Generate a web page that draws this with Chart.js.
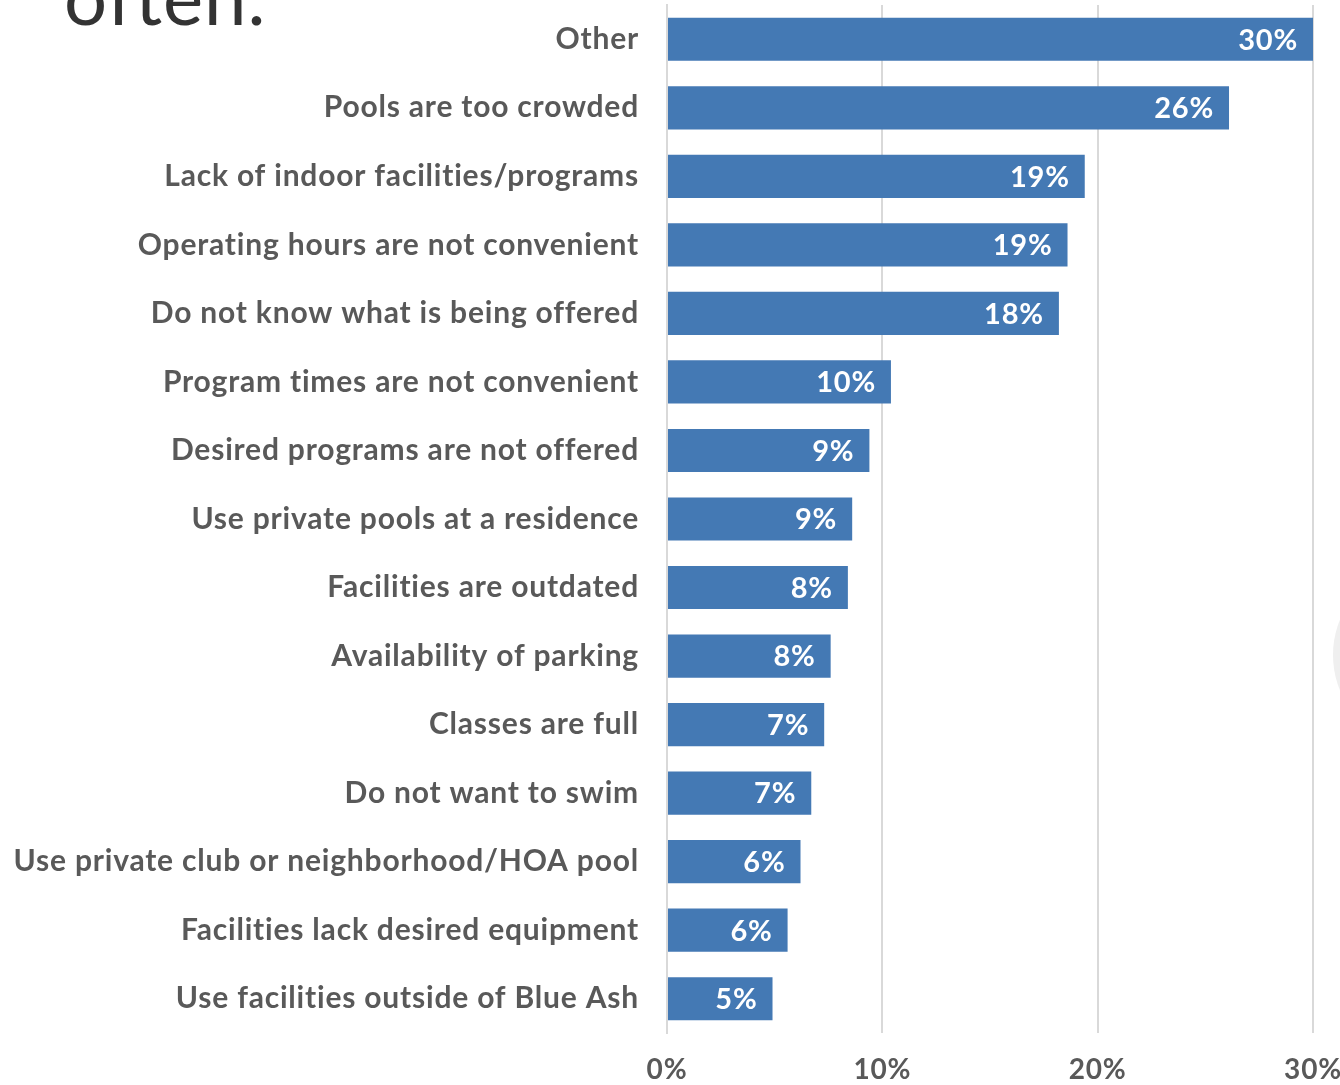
<!DOCTYPE html>
<html>
<head>
<meta charset="utf-8">
<script src="https://cdn.jsdelivr.net/npm/chart.js@4/dist/chart.umd.min.js"></script>
<style>
  html, body { margin: 0; padding: 0; background: #fff; overflow: hidden; }
  #wrap { position: relative; width: 1340px; height: 1085px; }
  #title { position: absolute; left: 64px; top: -50px; font-family: Lato, sans-serif; font-weight: 400; font-size: 76px; letter-spacing: 1px; color: #333; }
  #blob { position: absolute; left: 1333px; top: 580px; width: 120px; height: 150px; border-radius: 50%; background: #efefef; }
  canvas { position: absolute; left: 0; top: 0; }
</style>
</head>
<body>
<div id="wrap">
  <div id="title">often.</div>
  <div id="blob"></div>
  <canvas id="chart" width="1340" height="1085"></canvas>
</div>
<script>
const categories = [
  'Other',
  'Pools are too crowded',
  'Lack of indoor facilities/programs',
  'Operating hours are not convenient',
  'Do not know what is being offered',
  'Program times are not convenient',
  'Desired programs are not offered',
  'Use private pools at a residence',
  'Facilities are outdated',
  'Availability of parking',
  'Classes are full',
  'Do not want to swim',
  'Use private club or neighborhood/HOA pool',
  'Facilities lack desired equipment',
  'Use facilities outside of Blue Ash'
];
const values = [30.0, 26.1, 19.4, 18.6, 18.2, 10.4, 9.4, 8.6, 8.4, 7.6, 7.3, 6.7, 6.2, 5.6, 4.9];
const xMin = 0;
const xMax = 30;
const xStep = 10;

const labelFont = 'Lato, sans-serif';

// wider tracking to get closer to the original geometric font
const spacing = {
  id: 'spacing',
  beforeDraw(chart) { chart.ctx.letterSpacing = '0.8px'; }
};

// white % labels at the end of each bar
const barLabels = {
  id: 'barLabels',
  afterDatasetsDraw(chart) {
    const ctx = chart.ctx;
    const meta = chart.getDatasetMeta(0);
    ctx.save();
    ctx.fillStyle = '#fff';
    ctx.font = 'bold 29px ' + labelFont;
    ctx.letterSpacing = '0.8px';
    ctx.textAlign = 'right';
    ctx.textBaseline = 'middle';
    meta.data.forEach((bar, i) => {
      ctx.fillText(Math.round(values[i]) + '%', bar.x - 15, bar.y + 1);
    });
    ctx.restore();
  }
};

new Chart(document.getElementById('chart'), {
  type: 'bar',
  data: {
    labels: categories,
    datasets: [{
      data: values,
      backgroundColor: '#4479B4',
      borderWidth: 0,
      categoryPercentage: 1,
      barPercentage: 0.63
    }]
  },
  options: {
    indexAxis: 'y',
    responsive: false,
    animation: false,
    layout: { padding: { top: 5, right: 27, left: 0, bottom: 0 } },
    plugins: { legend: { display: false }, tooltip: { enabled: false } },
    scales: {
      x: {
        min: xMin,
        max: xMax,
        ticks: {
          stepSize: xStep,
          padding: 20,
          color: '#595959',
          font: { family: labelFont, size: 28, weight: 'bold' },
          callback: v => v + '%'
        },
        grid: { color: '#d9d9d9', lineWidth: 2, drawTicks: false },
        border: { display: false },
        afterFit(scale) {
          scale.height = 52;
          scale.paddingLeft = 0;
          scale.paddingRight = 0;
        }
      },
      y: {
        ticks: {
          padding: 28,
          color: '#595959',
          font: { family: labelFont, size: 30, weight: 'bold' }
        },
        grid: { display: false, drawTicks: false },
        border: { display: true, color: '#d9d9d9', width: 2 },
        afterFit(scale) {
          scale.width = 667;
          scale.paddingTop = 0;
          scale.paddingBottom = 0;
        }
      }
    }
  },
  plugins: [spacing, barLabels]
});
</script>
</body>
</html>
